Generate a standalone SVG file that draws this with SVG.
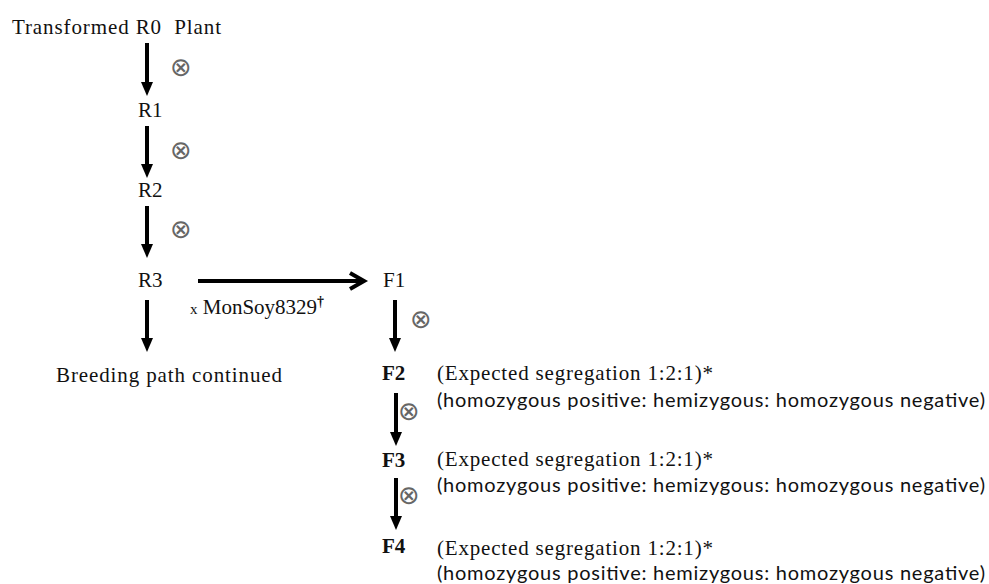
<svg xmlns="http://www.w3.org/2000/svg" width="989" height="584" viewBox="0 0 989 584">
<style>
.t{font-family:"Liberation Serif","Times New Roman",serif;font-size:21px;fill:#111}
.b{font-weight:bold}
.s{font-family:Lato,"Liberation Sans",sans-serif;font-size:20px;fill:#111}
.o{font-family:"DejaVu Sans",sans-serif;font-size:26px;fill:#666}
.sh{stroke:#000;stroke-width:4;fill:none}
.hd{fill:#000}
</style>
<rect width="989" height="584" fill="#fff"/>
<g id="R0"><text class="t" x="12" y="34" textLength="209" lengthAdjust="spacing" xml:space="preserve">Transformed R0  Plant</text></g>
<g id="R1"><text class="t" x="138" y="117">R1</text></g>
<g id="R2"><text class="t" x="138" y="197">R2</text></g>
<g id="R3"><text class="t" x="138" y="287">R3</text></g>
<g id="F1"><text class="t" x="383" y="287">F1</text></g>
<g id="breeding"><text class="t" x="56" y="382" textLength="226" lengthAdjust="spacing">Breeding path continued</text></g>
<g id="F2">
<text class="t b" x="382" y="380">F2</text>
<text class="t" x="437" y="380" textLength="276" lengthAdjust="spacing">(Expected segregation 1:2:1)*</text>
<text class="s" x="437" y="407" textLength="548" lengthAdjust="spacing">(homozygous positive: hemizygous: homozygous negative)</text>
</g>
<g id="F3">
<text class="t b" x="382" y="467">F3</text>
<text class="t" x="437" y="466" textLength="276" lengthAdjust="spacing">(Expected segregation 1:2:1)*</text>
<text class="s" x="437" y="492" textLength="548" lengthAdjust="spacing">(homozygous positive: hemizygous: homozygous negative)</text>
</g>
<g id="F4">
<text class="t b" x="382" y="553">F4</text>
<text class="t" x="437" y="555" textLength="276" lengthAdjust="spacing">(Expected segregation 1:2:1)*</text>
<text class="s" x="437" y="580" textLength="548" lengthAdjust="spacing">(homozygous positive: hemizygous: homozygous negative)</text>
</g>
<g id="connectors">
<line class="sh" x1="147" y1="43" x2="147" y2="84"/><polygon class="hd" points="141,82 153,82 147,96"/>
<line class="sh" x1="147" y1="126" x2="147" y2="166"/><polygon class="hd" points="141,164 153,164 147,178"/>
<line class="sh" x1="147" y1="206" x2="147" y2="246"/><polygon class="hd" points="141,244 153,244 147,258"/>
<line class="sh" x1="147" y1="300" x2="147" y2="340"/><polygon class="hd" points="141,338 153,338 147,352"/>
<line class="sh" x1="395" y1="300" x2="395" y2="340"/><polygon class="hd" points="389,338 401,338 395,352"/>
<line class="sh" x1="396" y1="393" x2="396" y2="434"/><polygon class="hd" points="390,432 402,432 396,446"/>
<line class="sh" x1="396" y1="478" x2="396" y2="518"/><polygon class="hd" points="390,516 402,516 396,530"/>
<line class="sh" x1="198" y1="281" x2="361" y2="281"/>
<polyline points="350,273 364,281 350,289" fill="none" stroke="#000" stroke-width="4"/>
<text class="o" x="170" y="76">⊗</text>
<text class="o" x="170" y="159">⊗</text>
<text class="o" x="170" y="238">⊗</text>
<text class="o" x="410" y="328">⊗</text>
<text class="o" x="398" y="420">⊗</text>
<text class="o" x="398" y="504">⊗</text>
<text class="t" x="190" y="314"><tspan font-size="15">x</tspan> MonSoy8329<tspan font-size="14" font-weight="bold" dy="-8">†</tspan></text>
</g>
</svg>
